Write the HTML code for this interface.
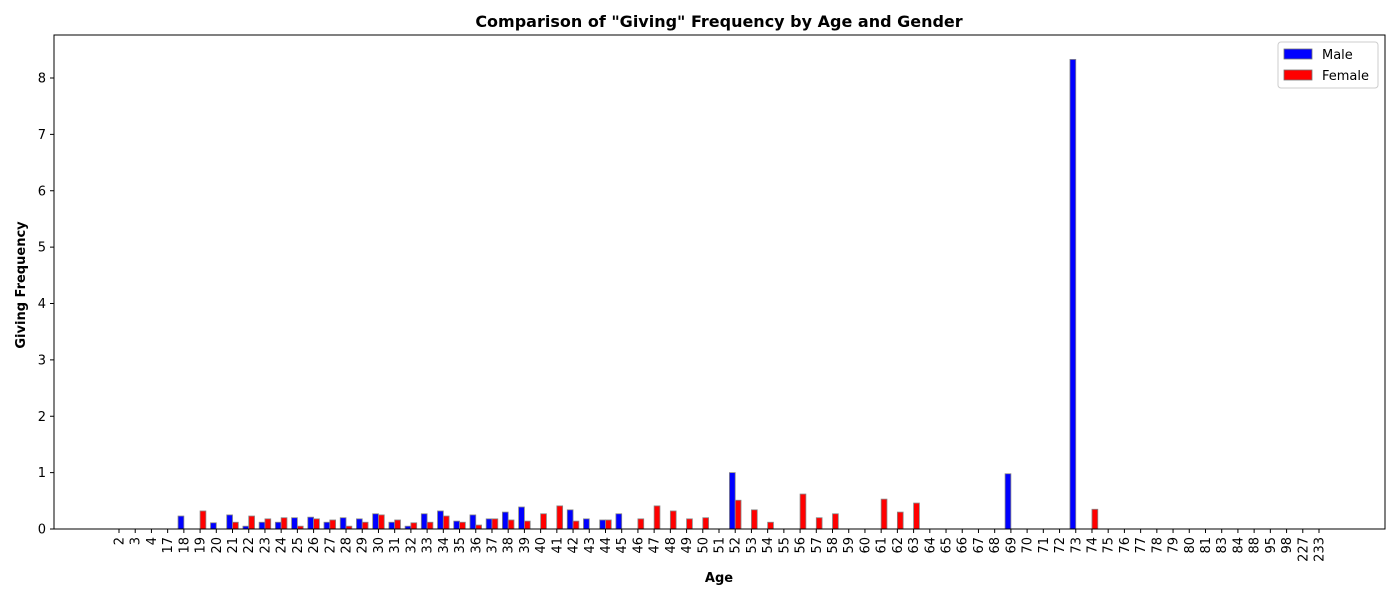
<!DOCTYPE html>
<html><head><meta charset="utf-8"><style>
body{margin:0;background:#fff;}
svg text{font-family:"DejaVu Sans","Liberation Sans",sans-serif;}
</style></head><body>
<svg id="chart" width="1400" height="600" xmlns="http://www.w3.org/2000/svg">
<rect width="1400" height="600" fill="#fff"/>
<text x="719" y="27" text-anchor="middle" font-size="16" font-weight="bold">Comparison of "Giving" Frequency by Age and Gender</text>
<g id="bars"></g>
<g id="axes"></g>
<rect x="54" y="35" width="1331" height="494" fill="none" stroke="#000" stroke-width="1"/>
<text x="719" y="582" text-anchor="middle" font-size="13" font-weight="bold">Age</text>
<text transform="translate(25,285) rotate(-90)" text-anchor="middle" font-size="13" font-weight="bold">Giving Frequency</text>
<g>
<rect x="1278" y="42" width="100" height="46" rx="3" fill="#fff" stroke="#ccc"/>
<rect x="1284" y="49" width="28" height="10" fill="#0000ff" stroke="#777" stroke-width="0.8"/>
<text x="1322" y="59" font-size="13">Male</text>
<rect x="1284" y="70" width="28" height="10" fill="#ff0000" stroke="#777" stroke-width="0.8"/>
<text x="1322" y="80" font-size="13">Female</text>
</g>
</svg>
<script>
const categories=[2,3,4,17,18,19,20,21,22,23,24,25,26,27,28,29,30,31,32,33,34,35,36,37,38,39,40,41,42,43,44,45,46,47,48,49,50,51,52,53,54,55,56,57,58,59,60,61,62,63,64,65,66,67,68,69,70,71,72,73,74,75,76,77,78,79,80,81,83,84,88,95,98,227,233];
const maleValues=[0,0,0,0,0.23,0,0.11,0.25,0.05,0.12,0.12,0.2,0.21,0.12,0.2,0.18,0.27,0.12,0.05,0.27,0.32,0.14,0.25,0.18,0.3,0.39,0,0,0.34,0.18,0.16,0.27,0,0,0,0,0,0,1.0,0,0,0,0,0,0,0,0,0,0,0,0,0,0,0,0,0.98,0,0,0,8.33,0,0,0,0,0,0,0,0,0,0,0,0,0,0,0];
const femaleValues=[0,0,0,0,0,0.32,0,0.12,0.23,0.18,0.2,0.05,0.18,0.16,0.05,0.12,0.25,0.16,0.11,0.12,0.23,0.12,0.07,0.18,0.16,0.14,0.27,0.41,0.14,0,0.16,0,0.18,0.41,0.32,0.18,0.2,0,0.51,0.34,0.12,0,0.62,0.2,0.27,0,0,0.53,0.3,0.46,0,0,0,0,0,0,0,0,0,0,0.35,0,0,0,0,0,0,0,0,0,0,0,0,0,0];
const yTicks=[0,1,2,3,4,5,6,7,8];
const NS="http://www.w3.org/2000/svg";
const x0=119,x1=1319,yBase=529,yPer=56.375;
const xPos=i=>x0+i*(x1-x0)/(categories.length-1);
const yPos=v=>yBase-v*yPer;
const bars=document.getElementById('bars'),axes=document.getElementById('axes');
const bw=5.8;
function mk(tag,attrs,parent){const e=document.createElementNS(NS,tag);for(const k in attrs)e.setAttribute(k,attrs[k]);parent.appendChild(e);return e;}
categories.forEach((c,i)=>{
  const cx=xPos(i);
  if(maleValues[i]>0){const r=mk('rect',{x:cx-bw,y:yPos(maleValues[i]),width:bw,height:yBase-yPos(maleValues[i]),fill:'#0000ff',stroke:'#888','stroke-width':0.8},bars);
  
  }
  if(femaleValues[i]>0){const r=mk('rect',{x:cx,y:yPos(femaleValues[i]),width:bw,height:yBase-yPos(femaleValues[i]),fill:'#ff0000',stroke:'#888','stroke-width':0.8},bars);
  
  }
  const t=mk('line',{x1:cx,x2:cx,y1:yBase,y2:yBase+4,stroke:'#000'},axes);
  
  
  const l=mk('text',{transform:`translate(${cx+4.5},${yBase+8}) rotate(-90)`,'text-anchor':'end','font-size':13},axes);
  l.textContent=c;
  
  
});
yTicks.forEach(v=>{
  const y=yPos(v);
  const t=mk('line',{x1:50,x2:54,y1:y,y2:y,stroke:'#000'},axes);
  
  
  const l=mk('text',{x:46,y:y+4.5,'text-anchor':'end','font-size':13},axes);
  l.textContent=v;
  
  
});
</script>
</body></html>
